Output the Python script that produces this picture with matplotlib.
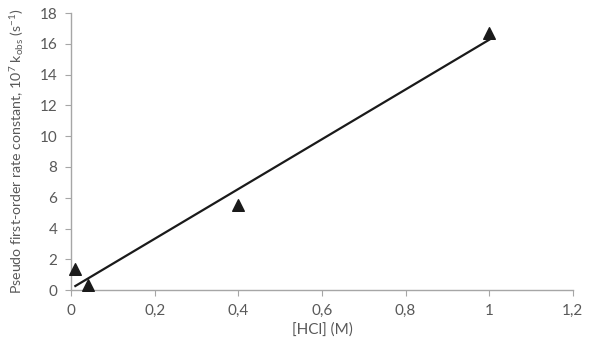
import numpy as np
import matplotlib
matplotlib.use("Agg")
import matplotlib.pyplot as plt

hcl = [0.01, 0.04, 0.4, 1.0]
kobs = [1.35, 0.3, 5.5, 16.7]
xticks = [0, 0.2, 0.4, 0.6, 0.8, 1.0, 1.2]
xlabels = ["0", "0,2", "0,4", "0,6", "0,8", "1", "1,2"]
yticks = [0, 2, 4, 6, 8, 10, 12, 14, 16, 18]

plt.rcParams["font.family"] = ["Lato", "DejaVu Sans"]
plt.rcParams["mathtext.default"] = "regular"
gray = "#595959"

fig = plt.figure(figsize=(5.93, 3.47), dpi=100)
ax = fig.add_axes([0.12, 0.164, 0.846, 0.7985])

# linear trendline
slope, intercept = np.polyfit(hcl, kobs, 1)
xl = np.array([min(hcl), max(hcl)])
ax.plot(xl, slope * xl + intercept, color="#1a1a1a", lw=1.6, zorder=2)
ax.scatter(hcl, kobs, marker="^", s=70, color="#1a1a1a", zorder=3, clip_on=False)

ax.set_xlim(0, 1.2)
ax.set_ylim(0, 18)
ax.set_xticks(xticks)
ax.set_xticklabels(xlabels)
ax.set_yticks(yticks)
for s in ["top", "right"]:
    ax.spines[s].set_visible(False)
for s in ["left", "bottom"]:
    ax.spines[s].set_color("#a6a6a6")
    ax.spines[s].set_linewidth(1)
ax.tick_params(colors="#a6a6a6", labelcolor=gray, labelsize=11, length=4, pad=6)
ax.set_xlabel("[HCl] (M)", color=gray, fontsize=11, labelpad=3)
ax.set_ylabel("Pseudo first-order rate constant, 10$^7$ k$_{obs}$ (s$^{-1}$)",
              color=gray, fontsize=10.2, labelpad=10)

fig.savefig("out.png", dpi=100)
